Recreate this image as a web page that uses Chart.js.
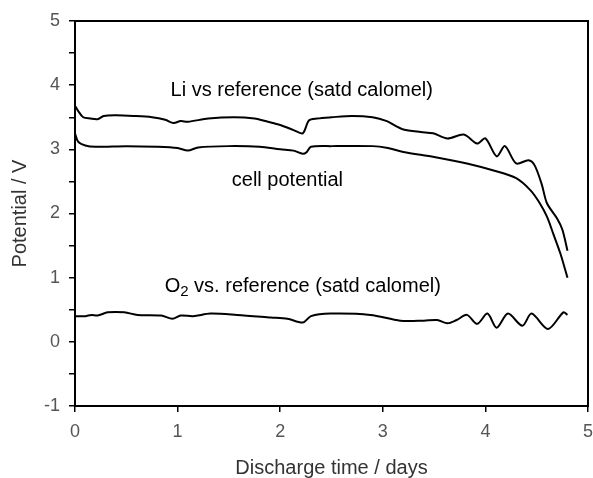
<!DOCTYPE html>
<html>
<head>
<meta charset="utf-8">
<script src="https://cdn.jsdelivr.net/npm/chart.js@4/dist/chart.umd.min.js"></script>
<style>
  html, body { margin: 0; padding: 0; background: #fff; }
  canvas { display: block; }
</style>
</head>
<body>
<canvas id="dischargeChart" width="593" height="478"></canvas>
<script>
// Li vs reference (satd calomel)
const liDays = [0, 0.03, 0.08, 0.15, 0.22, 0.28, 0.4, 0.57, 0.75, 0.88, 0.96, 1.03, 1.1, 1.3, 1.55, 1.75, 1.88, 2.0, 2.13, 2.22, 2.28, 2.36, 2.5, 2.7, 2.9, 3.04, 3.12, 3.2, 3.37, 3.49, 3.63, 3.79, 3.92, 4.0, 4.11, 4.19, 4.3, 4.42, 4.48, 4.55, 4.6, 4.7, 4.75, 4.8];
const liVolts = [3.68, 3.6, 3.5, 3.48, 3.47, 3.52, 3.53, 3.52, 3.5, 3.46, 3.41, 3.44, 3.43, 3.48, 3.5, 3.48, 3.43, 3.38, 3.3, 3.25, 3.45, 3.48, 3.5, 3.52, 3.5, 3.44, 3.37, 3.31, 3.27, 3.25, 3.17, 3.23, 3.09, 3.17, 2.89, 3.05, 2.78, 2.83, 2.75, 2.45, 2.16, 1.92, 1.75, 1.42];

// cell potential
const cellDays = [0, 0.03, 0.1, 0.2, 0.5, 0.8, 1.0, 1.1, 1.2, 1.5, 1.8, 2.0, 2.13, 2.22, 2.26, 2.3, 2.5, 2.9, 3.05, 3.2, 3.5, 3.82, 4.08, 4.3, 4.44, 4.53, 4.6, 4.66, 4.73, 4.8];
const cellVolts = [3.25, 3.12, 3.06, 3.04, 3.05, 3.04, 3.02, 2.98, 3.03, 3.05, 3.04, 3.0, 2.98, 2.93, 2.96, 3.04, 3.05, 3.05, 3.02, 2.96, 2.88, 2.78, 2.67, 2.55, 2.36, 2.16, 1.95, 1.69, 1.38, 1.0];

// O2 vs. reference (satd calomel)
const o2Days = [0, 0.1, 0.16, 0.22, 0.32, 0.48, 0.61, 0.84, 0.95, 1.03, 1.15, 1.32, 1.58, 1.91, 2.07, 2.22, 2.3, 2.49, 2.88, 3.17, 3.4, 3.53, 3.63, 3.72, 3.82, 3.92, 4.02, 4.11, 4.22, 4.36, 4.45, 4.61, 4.76, 4.8];
const o2Volts = [0.4, 0.4, 0.42, 0.41, 0.46, 0.46, 0.42, 0.41, 0.36, 0.41, 0.4, 0.44, 0.42, 0.38, 0.36, 0.3, 0.4, 0.44, 0.42, 0.33, 0.33, 0.34, 0.29, 0.34, 0.42, 0.28, 0.44, 0.22, 0.44, 0.25, 0.44, 0.2, 0.46, 0.42];

// curve labels: text, position in data units
const labelTexts = ['Li vs reference (satd calomel)', 'cell potential', 'O|2| vs. reference (satd calomel)'];
const labelDays = [2.21, 2.07, 2.22];
const labelVolts = [3.92, 2.52, 0.87];

const toPts = (xs, ys) => xs.map((x, i) => ({ x, y: ys[i] }));

const FONT = '"Liberation Sans", Arial, sans-serif';
const lineStyle = { borderColor: '#000', borderWidth: 2, pointRadius: 0, tension: 0.3, fill: false };

// frame round the plot + curve labels
const framePlugin = {
  id: 'frame',
  afterDatasetsDraw(chart) {
    const { ctx, chartArea: a, scales } = chart;
    ctx.save();
    ctx.strokeStyle = '#000';
    ctx.lineWidth = 2;
    ctx.strokeRect(a.left, a.top, a.right - a.left, a.bottom - a.top);

    ctx.fillStyle = '#000';
    ctx.textBaseline = 'middle';
    ctx.textAlign = 'left';
    labelTexts.forEach((txt, i) => {
      const px = scales.x.getPixelForValue(labelDays[i]);
      const py = scales.y.getPixelForValue(labelVolts[i]);
      // pieces between | | are subscripts
      const parts = txt.split('|');
      const fontOf = k => (k % 2 ? '15px ' : '20px ') + FONT;
      const widths = parts.map((p, k) => { ctx.font = fontOf(k); return ctx.measureText(p).width; });
      let x = px - widths.reduce((s, w) => s + w, 0) / 2;
      parts.forEach((p, k) => {
        ctx.font = fontOf(k);
        ctx.fillText(p, x, py + (k % 2 ? 6 : 0));
        x += widths[k];
      });
    });
    ctx.restore();
  }
};

new Chart(document.getElementById('dischargeChart'), {
  type: 'line',
  data: { datasets: [
    { ...lineStyle, data: toPts(liDays, liVolts) },
    { ...lineStyle, data: toPts(cellDays, cellVolts) },
    { ...lineStyle, data: toPts(o2Days, o2Volts) }
  ] },
  options: {
    responsive: false,
    animation: false,
    devicePixelRatio: 1,
    layout: { padding: { top: 21, right: 0, left: 0, bottom: 0 } },
    plugins: { legend: { display: false }, tooltip: { enabled: false } },
    scales: {
      x: {
        type: 'linear', min: 0, max: 5,
        afterFit: s => { s.height = 72; s.paddingRight = 5; },
        border: { display: false },
        grid: { drawOnChartArea: false, drawTicks: true, tickLength: 6, color: '#000', lineWidth: 1.5 },
        ticks: { stepSize: 1, padding: 9, color: '#555', font: { family: FONT, size: 18 } },
        title: { display: true, text: 'Discharge time / days', color: '#333',
          padding: { top: 0, bottom: 0 },
          font: { family: FONT, size: 20, lineHeight: 1 } }
      },
      y: {
        min: -1, max: 5,
        afterFit: s => { s.width = 75; },
        border: { display: false },
        grid: { drawOnChartArea: false, drawTicks: true, tickLength: 6, color: '#000', lineWidth: 1.5 },
        ticks: { stepSize: 0.5, padding: 9, color: '#555',
          font: { family: FONT, size: 18 },
          callback: v => Number.isInteger(v) ? String(v) : '' },
        title: { display: true, text: 'Potential / V', color: '#333',
          padding: { top: 10, bottom: 0 },
          font: { family: FONT, size: 20, lineHeight: 1 } }
      }
    }
  },
  plugins: [framePlugin]
});
</script>
</body>
</html>
